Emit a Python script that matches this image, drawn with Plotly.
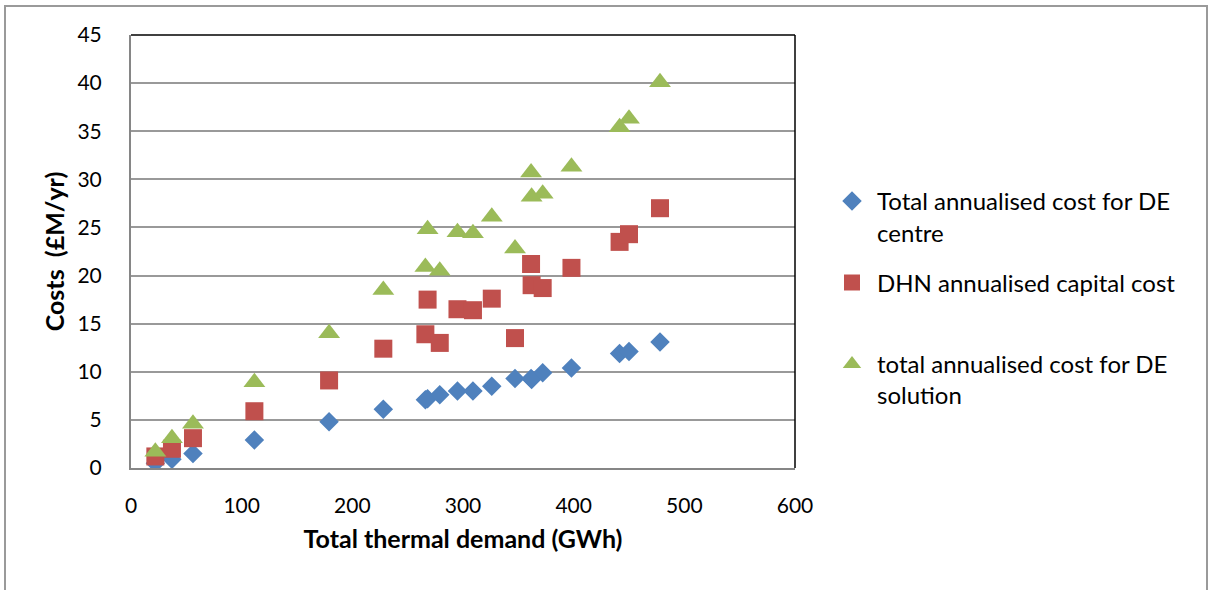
import plotly.graph_objects as go

# Total thermal demand (GWh) for each scheme
demand_gwh = [22, 37, 56, 111.5, 179, 228, 266, 268, 279, 295, 309, 326, 347,
              361.5, 362, 372, 398, 441.5, 450, 478]

# Annualised costs (£M/yr)
de_centre_cost = [0.5, 0.9, 1.5, 2.9, 4.8, 6.1, 7.1, 7.2, 7.6, 8.0, 8.0, 8.5, 9.3,
                  9.3, 9.2, 9.9, 10.4, 11.9, 12.1, 13.1]
dhn_capital_cost = [1.2, 2.0, 3.1, 5.9, 9.1, 12.4, 13.9, 17.5, 13.0, 16.5, 16.4, 17.6, 13.5,
                    21.2, 19.0, 18.7, 20.8, 23.5, 24.3, 27.0]
de_solution_cost = [1.7, 3.1, 4.6, 8.9, 14.0, 18.5, 20.9, 24.8, 20.5, 24.5, 24.4, 26.1, 22.8,
                    30.7, 28.2, 28.5, 31.3, 35.4, 36.3, 40.1]

series_names = [
    "Total annualised cost for DE<br>centre",
    "DHN annualised capital cost<br> ",
    "total annualised cost for DE<br>solution",
]

x_ticks = [0, 100, 200, 300, 400, 500, 600]
y_ticks = [0, 5, 10, 15, 20, 25, 30, 35, 40, 45]

FONT = "Lato, 'Noto Sans', sans-serif"
W, H = 1208, 590
M_L, M_R, M_T, M_B = 131, 413, 35, 122
PW, PH = W - M_L - M_R, H - M_T - M_B

fig = go.Figure()
series = [
    (de_centre_cost, "diamond", 15, "#4F81BD"),
    (dhn_capital_cost, "square", 18, "#C0504D"),
    (de_solution_cost, "triangle-up", 19, "#9BBB59"),
]
for i, (vals, sym, size, col) in enumerate(series):
    fig.add_trace(go.Scatter(
        x=demand_gwh, y=vals, mode="markers", name=series_names[i],
        legendgroup=f"g{i}",
        marker=dict(symbol=sym, size=size, color=col, line=dict(width=0)),
    ))

def px_x(p):
    return (p - M_L) / PW

def px_y(p):
    return (H - M_B - p) / PH

shapes = [
    # chart frame
    dict(type="rect", xref="paper", yref="paper",
         x0=px_x(5), x1=px_x(1207), y0=px_y(6), y1=px_y(620),
         line=dict(color="#9a9a9a", width=2), layer="below"),
    # plot area top and right edges
    dict(type="line", xref="paper", yref="paper", x0=0, x1=1, y0=1, y1=1,
         line=dict(color="#000000", width=1.5)),
    dict(type="line", xref="paper", yref="paper", x0=1, x1=1, y0=0, y1=1,
         line=dict(color="#000000", width=1.5)),
]

fig.update_layout(
    width=W, height=H,
    margin=dict(l=M_L, r=M_R, t=M_T, b=M_B, autoexpand=False),
    paper_bgcolor="white", plot_bgcolor="white",
    font=dict(family=FONT, color="#000000", size=21),
    shapes=shapes,
    showlegend=True,
    legend=dict(
        x=px_x(827), y=px_y(179), xanchor="left", yanchor="top",
        font=dict(family=FONT, size=24, color="#000000"),
        valign="top", tracegroupgap=16, bgcolor="rgba(0,0,0,0)",
        itemsizing="trace", itemwidth=40,
    ),
    xaxis=dict(
        range=[0, 600], tickvals=x_ticks, showgrid=False, zeroline=False,
        showline=True, linecolor="#868686", linewidth=2, ticks="",
        tickfont=dict(family=FONT, size=21), ticklabelstandoff=18,
        title=dict(text="<b>Total thermal demand (GWh)</b>", standoff=14,
                   font=dict(family=FONT, size=25)),
        automargin=False,
    ),
    yaxis=dict(
        range=[0, 45], tickvals=y_ticks, showgrid=True, gridcolor="#999999",
        gridwidth=1.5, zeroline=False,
        showline=True, linecolor="#868686", linewidth=2, ticks="",
        tickfont=dict(family=FONT, size=21), ticklabelstandoff=23,
        title=dict(text="<b>Costs  (£M/yr)</b>", standoff=6,
                   font=dict(family=FONT, size=25)),
        automargin=False,
    ),
)

fig.write_html("out.html")
